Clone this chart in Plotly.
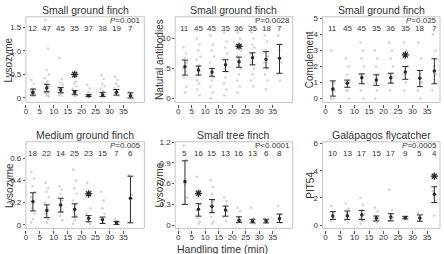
import plotly.graph_objects as go

W, H = 444, 254
FONT = "Liberation Sans, Arial, sans-serif"
TXT = "#333333"

groups = [2.5, 7.5, 12.5, 17.5, 22.5, 27.5, 32.5, 37.5]
x_tick_vals = [0, 5, 10, 15, 20, 25, 30, 35]
x_tick_text = ["0", "5", "10", "15", "20", "25", "30", "35"]

titles = ["Small ground finch", "Small ground finch", "Small ground finch",
          "Medium ground finch", "Small tree finch", "Galápagos flycatcher"]
ylabels = ["Lysozyme", "Natural antibodies", "Complement",
           "Lysozyme", "Lysozyme", "PIT54"]
pvals = ["<i>P</i>=0.001", "P=0.0028", "<i>P</i>=0.025",
         "<i>P</i>=0.005", "P<0.0001", "<i>P</i>=0.0005"]

# sample sizes
n_p1 = [12, 47, 45, 35, 37, 38, 19, 7]
n_p2 = [11, 45, 45, 35, 36, 35, 18, 7]
n_p3 = [11, 45, 45, 35, 36, 35, 18, 7]
n_p4 = [18, 22, 14, 25, 23, 15, 7, 6]
n_p5 = [5, 16, 15, 13, 16, 13, 6, 8]
n_p6 = [10, 13, 17, 15, 17, 9, 5, 4]

# means and error bar limits
mean_p1 = [0.12, 0.21, 0.17, 0.12, 0.05, 0.07, 0.12, 0.05]
lo_p1 = [0.06, 0.13, 0.11, 0.07, 0.03, 0.03, 0.06, 0.00]
hi_p1 = [0.19, 0.29, 0.22, 0.16, 0.07, 0.12, 0.18, 0.11]

mean_p2 = [5.3, 4.75, 4.4, 5.6, 6.1, 6.8, 6.5, 6.7]
lo_p2 = [3.9, 3.9, 3.7, 4.5, 5.2, 5.6, 5.1, 4.2]
hi_p2 = [6.4, 5.4, 5.0, 6.45, 6.9, 7.6, 7.8, 9.0]

mean_p3 = [0.6, 0.95, 1.3, 1.15, 1.3, 1.65, 1.27, 1.72]
lo_p3 = [0.15, 0.7, 0.92, 0.82, 0.96, 1.2, 0.74, 0.92]
hi_p3 = [1.1, 1.15, 1.54, 1.48, 1.58, 2.0, 1.75, 2.48]

mean_p4 = [0.21, 0.13, 0.18, 0.14, 0.06, 0.045, 0.02, 0.24]
lo_p4 = [0.125, 0.065, 0.115, 0.07, 0.027, 0.012, 0.003, 0.018]
hi_p4 = [0.29, 0.18, 0.24, 0.19, 0.083, 0.07, 0.03, 0.44]

mean_p5 = [0.63, 0.23, 0.27, 0.22, 0.07, 0.057, 0.06, 0.095]
lo_p5 = [0.30, 0.13, 0.18, 0.13, 0.04, 0.033, 0.033, 0.038]
hi_p5 = [0.93, 0.31, 0.37, 0.275, 0.12, 0.085, 0.085, 0.16]

mean_p6 = [0.67, 0.70, 0.75, 0.50, 0.60, 0.55, 0.53, 2.27]
lo_p6 = [0.41, 0.41, 0.41, 0.31, 0.31, 0.46, 0.29, 1.66]
hi_p6 = [0.99, 1.04, 1.08, 0.67, 0.84, 0.65, 0.75, 2.82]

# significant group (index) and star height
star_idx = [3, 4, 5, 4, 1, 7]
star_y = [0.50, 8.7, 2.72, 0.28, 0.46, 3.6]

# individual observations (approximate reading)
raw_p1 = [[0.38, 0.3, 0.2, 0.17, 0.15, 0.12, 0.1, 0.08, 0.06, 0.05, 0.03],
          [1.65, 1.05, 0.6, 0.5, 0.42, 0.35, 0.3, 0.25, 0.2, 0.15, 0.12, 0.1, 0.08, 0.05, 0.03],
          [0.85, 0.4, 0.33, 0.28, 0.22, 0.2, 0.15, 0.12, 0.1, 0.07, 0.05],
          [0.45, 0.35, 0.3, 0.25, 0.2, 0.15, 0.1, 0.06, 0.03],
          [0.28, 0.2, 0.12, 0.08, 0.05, 0.03, 0.02],
          [0.48, 0.4, 0.3, 0.25, 0.2, 0.15, 0.1, 0.06, 0.03],
          [0.45, 0.38, 0.3, 0.25, 0.2, 0.15, 0.1, 0.05],
          [0.12, 0.08, 0.05, 0.02]]
raw_p2 = [[8.5, 7.5, 6.8, 6, 5, 4.5, 3.5, 2, 1],
          [10, 9, 8, 7, 6.5, 5.5, 5, 4.5, 4, 3, 2.5, 1.5, 0.5],
          [10.5, 9, 8, 7, 6, 5, 4, 3.5, 3, 2, 1, 0],
          [11, 9.5, 8.5, 7.5, 6.5, 6, 5, 4.5, 3.5, 2.5, 1.5, 0.5],
          [11, 10, 9, 8, 7, 6, 5.5, 5, 4, 3, 2, 1],
          [11, 10, 9, 8.5, 7.5, 7, 6, 5, 4, 3, 2],
          [10.5, 9.5, 8, 7, 6, 5, 4, 3, 1.5],
          [10.5, 9, 8, 6, 4, 3]]
raw_p3 = [[3.0, 1.0, 0.5, 0.5, 0, 0],
          [2.5, 2.0, 1.5, 1.0, 1.0, 0.5, 0.5, 0],
          [3.5, 3.0, 2.5, 2.0, 1.5, 1.0, 0.5, 0],
          [3.0, 2.5, 2.0, 1.5, 1.0, 0.5, 0],
          [3.5, 3.0, 2.5, 2.0, 1.5, 1.0, 0.5],
          [3.5, 3.0, 2.5, 2.0, 1.5, 1.0, 0.5],
          [3.5, 2.5, 1.5, 1.0, 0.5, 0],
          [4.0, 3.0, 2.0, 1.5, 0.5]]
raw_p4 = [[0.48, 0.42, 0.35, 0.3, 0.25, 0.2, 0.15, 0.1, 0.05, 0.02],
          [0.38, 0.33, 0.3, 0.25, 0.2, 0.15, 0.1, 0.05, 0.02],
          [0.35, 0.32, 0.28, 0.22, 0.18, 0.12, 0.08, 0.04],
          [0.5, 0.4, 0.33, 0.28, 0.22, 0.18, 0.12, 0.08, 0.04, 0.01],
          [0.38, 0.3, 0.25, 0.15, 0.1, 0.06, 0.03, 0.01],
          [0.3, 0.22, 0.15, 0.1, 0.05, 0.02],
          [0.05, 0.03, 0.01],
          [0.45, 0.27, 0.02]]
raw_p5 = [[1.15, 0.95, 0.6, 0.4, 0.3],
          [0.7, 0.5, 0.4, 0.3, 0.22, 0.15, 0.1, 0.05, 0.02],
          [0.65, 0.55, 0.45, 0.35, 0.28, 0.2, 0.12, 0.05, 0.02],
          [0.4, 0.35, 0.28, 0.2, 0.12, 0.06],
          [0.25, 0.2, 0.12, 0.06, 0.03],
          [0.25, 0.1, 0.05, 0.02],
          [0.1, 0.05, 0.03],
          [0.28, 0.15, 0.08, 0.03]]
raw_p6 = [[1.4, 1.0, 0.7, 0.5, 0.3],
          [1.6, 1.2, 0.9, 0.6, 0.4, 0.2],
          [2.0, 1.5, 1.1, 0.8, 0.5, 0.3, 0.1],
          [1.3, 1.0, 0.7, 0.5, 0.3, 0.2],
          [2.6, 1.1, 0.8, 0.5, 0.3],
          [0.6, 0.5, 0.4],
          [0.9, 0.5, 0.3],
          [2.5, 1.8, 0.7]]

y_ticks_list = [[0, 0.5, 1.0, 1.5], [0, 5, 10], [0, 1, 2, 3, 4, 5],
                [0, 0.2, 0.4, 0.6], [0, 0.3, 0.6, 0.9, 1.2], [0, 2, 4, 6]]
y_ticktext_list = [["0", "0.5", "1.0", "1.5"], ["0", "5", "10"],
                   ["0", "1", "2", "3", "4", "5"],
                   ["0", "0.2", "0.4", "0.6"], ["0", "0.3", "0.6", "0.9", "1.2"],
                   ["0", "2", "4", "6"]]

ns = [n_p1, n_p2, n_p3, n_p4, n_p5, n_p6]
means = [mean_p1, mean_p2, mean_p3, mean_p4, mean_p5, mean_p6]
los = [lo_p1, lo_p2, lo_p3, lo_p4, lo_p5, lo_p6]
his = [hi_p1, hi_p2, hi_p3, hi_p4, hi_p5, hi_p6]
raws = [raw_p1, raw_p2, raw_p3, raw_p4, raw_p5, raw_p6]

# ---- pixel geometry (layout only) ----
# per column: frame left, frame right, pixel of x=0, pixel of x=35, y-label x
col_geo = [(24, 143, 24, 122, 7), (174, 292, 177, 272, 158),
           (322, 440, 325, 427, 309)]
# per row: plot top, plot bottom (x ticks start), frame bottom
row_geo = [(13, 102, 100), (140, 230, 228)]
# per panel: pixel of y=0, top tick value, pixel of top tick
y_anchor = [(95.5, 1.5, 23.5), (96, 10, 35), (96, 5, 14.7),
            (224.3, 0.6, 157), (224.7, 1.2, 140.3), (224.7, 6, 141.7)]
jit = [-0.5, 0.4, -0.1, 0.7, -0.7, 0.2, -0.35, 0.55, 0.0, -0.6, 0.3]

fig = go.Figure()
annotations = []
shapes = []
layout_axes = {}
DARK = "#2a2a2a"

for i in range(6):
    r, c = divmod(i, 3)
    fl, frt, p0, p35, ylx = col_geo[c]
    top, bot, fbot = row_geo[r]
    sfx = "" if i == 0 else str(i + 1)
    xa, ya = "x" + sfx, "y" + sfx

    sx = (p35 - p0) / 35.0
    xr = [(fl - p0) / sx, (frt - p0) / sx]
    py0, vt, pyt = y_anchor[i]
    sy = (py0 - pyt) / vt
    yr = [-(bot - py0) / sy, (py0 - top) / sy]

    layout_axes["xaxis" + sfx] = dict(
        domain=[fl / W, frt / W], anchor=ya, range=xr,
        tickvals=x_tick_vals, ticktext=x_tick_text, ticks="outside",
        ticklen=3, tickwidth=1, tickcolor="#555", showline=False,
        showgrid=False, zeroline=False, ticklabelstandoff=-4,
        tickfont=dict(size=8, color=TXT, family=FONT))
    layout_axes["yaxis" + sfx] = dict(
        domain=[1 - bot / H, 1 - top / H], anchor=xa, range=yr,
        tickvals=y_ticks_list[i], ticktext=y_ticktext_list[i], ticks="outside",
        ticklen=2, tickwidth=1, tickcolor="#555", showline=False,
        showgrid=False, zeroline=False,
        tickfont=dict(size=8, color=TXT, family=FONT))

    # raw observations
    rx, ry = [], []
    for g, vals in zip(groups, raws[i]):
        for k, v in enumerate(vals):
            rx.append(g + jit[k % len(jit)])
            ry.append(v)
    fig.add_trace(go.Scatter(x=rx, y=ry, mode="markers", xaxis=xa, yaxis=ya,
                             marker=dict(size=2.5, color="#d0d0d0"),
                             showlegend=False, hoverinfo="skip"))
    # means with error bars
    m = means[i]
    fig.add_trace(go.Scatter(
        x=groups, y=m, mode="markers", xaxis=xa, yaxis=ya,
        marker=dict(size=3.5, color=DARK),
        error_y=dict(type="data", symmetric=False,
                     array=[h - v for h, v in zip(his[i], m)],
                     arrayminus=[v - l for v, l in zip(m, los[i])],
                     color=DARK, thickness=1, width=3),
        showlegend=False))
    # star
    fig.add_trace(go.Scatter(
        x=[groups[star_idx[i]]], y=[star_y[i]], mode="markers",
        xaxis=xa, yaxis=ya,
        marker=dict(symbol="asterisk-open", size=6, color=DARK,
                    line=dict(color=DARK, width=1.3)),
        showlegend=False))

    # frame
    fr = (bot - fbot) / (bot - top)
    shapes.append(dict(type="rect", xref=xa + " domain", yref=ya + " domain",
                       x0=0, x1=1, y0=fr, y1=1,
                       line=dict(color="#c4c4c4", width=1)))

    # counts
    ny = top + 12
    for g, n in zip(groups, ns[i]):
        annotations.append(dict(x=g, y=1 - ny / H, xref=xa, yref="paper",
                                text=str(n), showarrow=False,
                                xanchor="center", yanchor="middle",
                                font=dict(size=8, color=TXT, family=FONT)))
    # p value
    annotations.append(dict(x=(frt - 1) / W, y=1 - (top + 4) / H, xref="paper",
                            yref="paper", text=pvals[i], showarrow=False,
                            xanchor="right", yanchor="middle",
                            font=dict(size=8, color=TXT, family=FONT)))
    # title
    annotations.append(dict(x=(fl + frt) / 2 / W, y=1 - (top - 7) / H,
                            xref="paper", yref="paper", text=titles[i],
                            showarrow=False, xanchor="center", yanchor="middle",
                            font=dict(size=10.5, color=TXT, family=FONT)))
    # y label
    annotations.append(dict(x=ylx / W, y=1 - ((top + fbot) / 2) / H,
                            xref="paper", yref="paper", text=ylabels[i],
                            showarrow=False, textangle=-90,
                            xanchor="center", yanchor="middle",
                            font=dict(size=10, color=TXT, family=FONT)))

annotations.append(dict(x=221 / W, y=1 - 249 / H, xref="paper", yref="paper",
                        text="Handling time (min)", showarrow=False,
                        xanchor="center", yanchor="middle",
                        font=dict(size=10.5, color=TXT, family=FONT)))

fig.update_layout(width=W, height=H, margin=dict(l=0, r=0, t=0, b=0),
                  paper_bgcolor="white", plot_bgcolor="white",
                  annotations=annotations, shapes=shapes, **layout_axes)

fig.write_html("out.html")
